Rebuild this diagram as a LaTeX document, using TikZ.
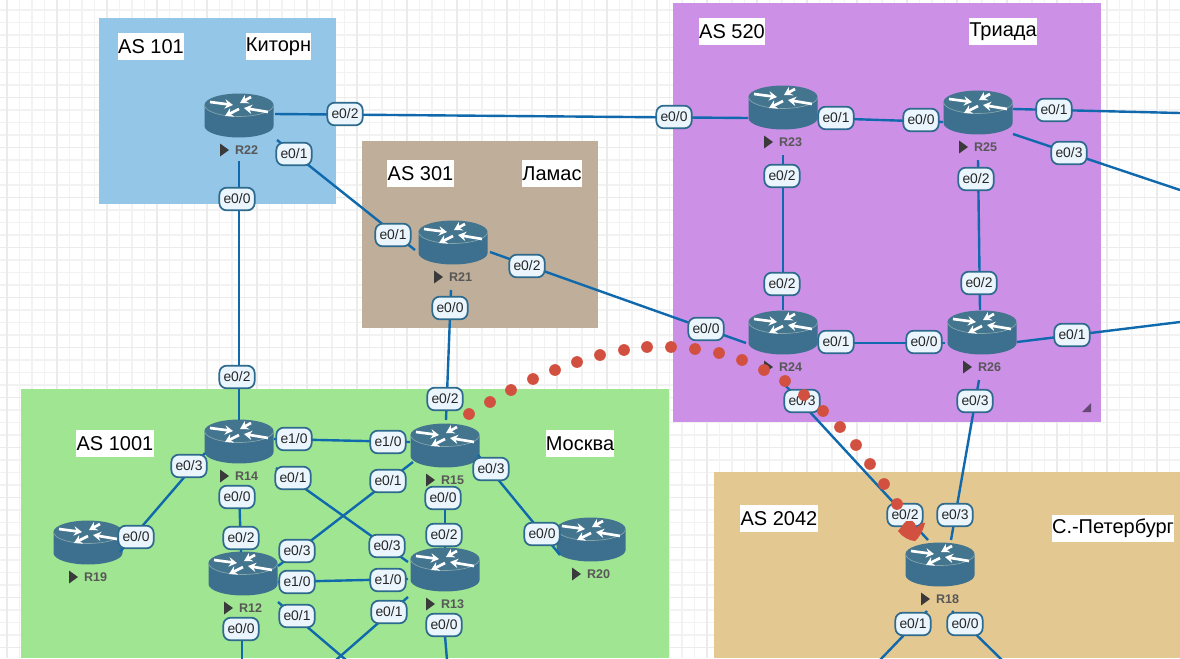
\documentclass[tikz,border=0pt]{standalone}
\usepackage{fontspec}
\setmainfont{Liberation Sans}
\usetikzlibrary{calc,arrows.meta}
\definecolor{linkc}{HTML}{0F69AC}
\definecolor{ifcfill}{HTML}{EAF5FD}
\definecolor{ifcdraw}{HTML}{2E6A8E}
\definecolor{rbody}{HTML}{3D6F8E}
\definecolor{rtop}{HTML}{44758F}
\definecolor{rrim}{HTML}{86A6AC}
\definecolor{rtxt}{HTML}{3A3A3A}
\definecolor{dotc}{HTML}{D2503F}
\definecolor{gridl}{HTML}{F2F2F2}
\definecolor{gridh}{HTML}{EBEBEB}
\definecolor{zblue}{HTML}{93C6E7}
\definecolor{ztan}{HTML}{BFAE99}
\definecolor{zpurple}{HTML}{CC90E7}
\definecolor{zgreen}{HTML}{A0E592}
\definecolor{zgold}{HTML}{E4C892}
\tikzset{
  rtrbox/.style={draw=none,fill=none,inner sep=0pt,minimum width=52pt,minimum height=34pt},
  rtrlabel/.style={font=\fontsize{9.4pt}{11pt}\selectfont\bfseries,text=rtxt!85,inner sep=0pt},
  ifc/.style={draw=ifcdraw,fill=ifcfill,line width=1.3pt,rounded corners=5.5pt,inner sep=0pt,
     minimum width=26.5pt,minimum height=17pt,font=\fontsize{10.4pt}{11pt}\selectfont,text=black!85},
  lnk/.style={draw=linkc,line width=1.8pt},
  astext/.style={fill=white,inner xsep=0.2pt,inner ysep=0pt,minimum height=20.2pt,
     font=\fontsize{15pt}{17pt}\selectfont,text=black},
  reddot/.style={fill=dotc,draw=none},
  routerpic/.pic={
    \fill[rbody] (-34.5,-11) -- (-34.5,10) arc[start angle=180,end angle=360,x radius=25.9pt,y radius=8.6pt] -- (34.5,-11) -- cycle;
    \fill[rtop] (0,-11) ellipse[x radius=25.9pt,y radius=8.6pt];
    \draw[rrim,line width=0.5pt] (-34.5,-11) arc[start angle=180,end angle=360,x radius=25.9pt,y radius=8.6pt];
    \foreach \ax/\ay/\bx/\by in {-29/-14/-6/-11,12/-19/1/-13,0/-7/-14/0,29/-4/5/-8}{
      \draw[white,line width=2pt,-{Stealth[length=6pt,width=7pt]}] (\ax,\ay) -- (\bx,\by);
    }
    \fill[rtxt] (-19,27.5) -- (-10,34) -- (-19,40.5) -- cycle;
  }
}
\newcommand{\rtr}[4]{%
  \node[rtrbox] (#1) at (#2,#3) {};
  \pic at (#1) {routerpic};
  \node[rtrlabel] (#1t) at ($(#1)+(7.5,34)$) {#4};
}
\newcommand{\lnkk}[6]{\draw[lnk] ($(#1)+(#2,#3)$) -- ($(#4)+(#5,#6)$);}
\begin{document}
\begin{tikzpicture}[x=0.75pt,y=-0.75pt]
\useasboundingbox (0,0) rectangle (1180,658);
\clip (0,0) rectangle (1180,658);
\fill[white] (0,0) rectangle (1180,658);
% grid
\foreach \i in {0,...,94}{\draw[gridl,line width=0.8pt] ({7+12.5*\i},0) -- ({7+12.5*\i},658);}
\foreach \i in {0,...,52}{\draw[gridl,line width=0.8pt] (0,{10+12.5*\i}) -- (1180,{10+12.5*\i});}
\foreach \i in {0,...,23}{\draw[gridh,line width=0.9pt] ({7+50*\i},0) -- ({7+50*\i},658);}
\foreach \i in {0,...,13}{\draw[gridh,line width=0.9pt] (0,{47.5+50*\i}) -- (1180,{47.5+50*\i});}
% zones
\fill[zblue] (99,18) rectangle (336,204);
\fill[ztan] (362,141) rectangle (598,328);
\fill[zpurple] (673,3) rectangle (1101,422);
\fill[zgreen] (21,389) rectangle (669,658);
\fill[zgold] (714,472) rectangle (1180,658);
\fill[black!50!zpurple] (1082,412) -- (1091,403) -- (1091,412) -- cycle;
% zone texts
\node[astext] (t1) at (151,46.5) {AS 101};
\node[astext] (t2) at (278.5,46.5) {Киторн};
\node[astext] (t3) at (420.5,173.5) {AS 301};
\node[astext] (t4) at (552,173.5) {Ламас};
\node[astext] (t5) at (732,31.5) {AS 520};
\node[astext] (t6) at (1003,31.5) {Триада};
\node[astext] (t7) at (115,443.5) {AS 1001};
\node[astext] (t8) at (580,443.5) {Москва};
\node[astext] (t9) at (779,518.5) {AS 2042};
\node[astext] (t10) at (1113,528.5) {С.-Петербург};
% routers
\rtr{r22}{239}{116}{R22}
\rtr{r21}{453}{243}{R21}
\rtr{r23}{783}{108}{R23}
\rtr{r25}{978}{113}{R25}
\rtr{r24}{783}{333}{R24}
\rtr{r26}{982}{333}{R26}
\rtr{r14}{239}{442}{R14}
\rtr{r15}{445}{446}{R15}
\rtr{r12}{243}{574}{R12}
\rtr{r13}{445}{570}{R13}
\rtr{r19}{88}{543}{R19}
\rtr{r20}{591}{540}{R20}
\rtr{r18}{940}{565}{R18}
% free ends
\coordinate (c1) at (1180,113);
\coordinate (c2) at (1180,190);
\coordinate (c3) at (1180,322);
\coordinate (c4) at (346,660);
\coordinate (c5) at (336,660);
\coordinate (c6) at (242,660);
\coordinate (c7) at (447,660);
\coordinate (c8) at (880,660);
\coordinate (c9) at (1002,660);
% links
\lnkk{r22}{36}{-2}{r23}{-35}{10}
\lnkk{r22}{38}{24}{r21}{-38}{7}
\lnkk{r22}{0}{45}{r14}{0}{-22}
\lnkk{r21}{-2}{47}{r15}{1}{-26}
\lnkk{r21}{37}{9}{r24}{-37}{10}
\lnkk{r23}{35}{10}{r25}{-35}{9}
\lnkk{r23}{0}{47}{r24}{0}{-23}
\lnkk{r25}{0}{47}{r26}{-2}{-23}
\lnkk{r24}{37}{10}{r26}{-37}{10}
\lnkk{r24}{2}{52}{r18}{-12}{-25}
\lnkk{r26}{-3}{47}{r18}{11}{-25}
\lnkk{r14}{35}{-3}{r15}{-35}{-4}
\lnkk{r14}{37}{26}{r13}{-37}{-8}
\lnkk{r15}{-32}{16}{r12}{35}{-8}
\lnkk{r14}{-34}{11}{r19}{32}{9}
\lnkk{r14}{0}{46}{r12}{-2}{-22}
\lnkk{r15}{0}{46}{r13}{0}{-22}
\lnkk{r15}{33}{9}{r20}{-31}{15}
\lnkk{r12}{35}{8}{r13}{-37}{9}
\draw[lnk] ($(r25)+(35,-4)$) -- (c1);
\draw[lnk] ($(r25)+(35,21)$) -- (c2);
\draw[lnk] ($(r26)+(35,9)$) -- (c3);
\draw[lnk] ($(r12)+(35,28)$) -- (c4);
\draw[lnk] ($(r13)+(-37,27)$) -- (c5);
\draw[lnk] ($(r12)+(-1,66)$) -- (c6);
\draw[lnk] ($(r13)+(0,66)$) -- (c7);
\draw[lnk] ($(r18)+(-13,46)$) -- (c8);
\draw[lnk] ($(r18)+(12,46)$) -- (c9);
% interface labels
\node[ifc] (i1) at (345,114) {e0/2};
\node[ifc] (i2) at (294,154) {e0/1};
\node[ifc] (i3) at (237,199) {e0/0};
\node[ifc] (i4) at (674,117) {e0/0};
\node[ifc] (i5) at (836,118) {e0/1};
\node[ifc] (i6) at (782,176) {e0/2};
\node[ifc] (i7) at (782,284) {e0/2};
\node[ifc] (i8) at (921,120) {e0/0};
\node[ifc] (i9) at (1054,110) {e0/1};
\node[ifc] (i10) at (1069,153) {e0/3};
\node[ifc] (i11) at (976,179) {e0/2};
\node[ifc] (i12) at (979,283) {e0/2};
\node[ifc] (i13) at (924,342) {e0/0};
\node[ifc] (i14) at (1072,335) {e0/1};
\node[ifc] (i15) at (975,401) {e0/3};
\node[ifc] (i16) at (706,329) {e0/0};
\node[ifc] (i17) at (836,342) {e0/1};
\node[ifc] (i18) at (802,401) {e0/3};
\node[ifc] (i19) at (393,235) {e0/1};
\node[ifc] (i20) at (527,266) {e0/2};
\node[ifc] (i21) at (450,308) {e0/0};
\node[ifc] (i22) at (237,377) {e0/2};
\node[ifc] (i23) at (294,439) {e1/0};
\node[ifc] (i24) at (293,478) {e0/1};
\node[ifc] (i25) at (189,466) {e0/3};
\node[ifc] (i26) at (237,497) {e0/0};
\node[ifc] (i27) at (445,399) {e0/2};
\node[ifc] (i28) at (388,442) {e1/0};
\node[ifc] (i29) at (388,481) {e0/1};
\node[ifc] (i30) at (491,469) {e0/3};
\node[ifc] (i31) at (443,498) {e0/0};
\node[ifc] (i32) at (136,537) {e0/0};
\node[ifc] (i33) at (542,534) {e0/0};
\node[ifc] (i34) at (241,538) {e0/2};
\node[ifc] (i35) at (297,551) {e0/3};
\node[ifc] (i36) at (297,582) {e1/0};
\node[ifc] (i37) at (297,616) {e0/1};
\node[ifc] (i38) at (241,629) {e0/0};
\node[ifc] (i39) at (444,535) {e0/2};
\node[ifc] (i40) at (387,546) {e0/3};
\node[ifc] (i41) at (388,580) {e1/0};
\node[ifc] (i42) at (389,612) {e0/1};
\node[ifc] (i43) at (444,625) {e0/0};
\node[ifc] (i44) at (905,515) {e0/2};
\node[ifc] (i45) at (955,515) {e0/3};
\node[ifc] (i46) at (913,624) {e0/1};
\node[ifc] (i47) at (965,624) {e0/0};
% red dots
\foreach \dx/\dy in {469/414,490/402,511/390,533/379,555/370,577/362,600/355,624/350,647/347,671/347,695/349,719/353,742/360,764/370,785/381,804/395,823/411,840/427,856/445,870/464,884/484,897/504}{
  \fill[reddot] (\dx,\dy) circle[radius=4.4pt];
}
\fill[dotc,line join=round] (898,531) .. controls (903,526) and (905,519) .. (909,521) .. controls (914,519) and (916,526) .. (917,528) .. controls (919,525) and (922,522) .. (925,523) .. controls (923,531) and (919,538) .. (915,541) .. controls (910,541) and (902,537) .. (898,531) -- cycle;
\end{tikzpicture}
\end{document}
